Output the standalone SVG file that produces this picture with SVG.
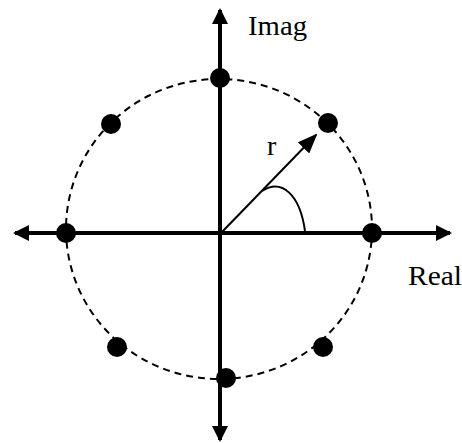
<svg xmlns="http://www.w3.org/2000/svg" width="462" height="443" viewBox="0 0 462 443">
<style>
.axis{stroke:#000;stroke-width:4;fill:none}
.circ{stroke:#000;stroke-width:2;fill:none;stroke-dasharray:7,5}
.dot{fill:#000}
.lbl{font-family:"Liberation Serif",serif;font-size:28px;fill:#000}
</style>
<defs>
<marker id="ah" markerWidth="4" markerHeight="4" refX="3.5" refY="2" orient="auto" markerUnits="strokeWidth">
<path d="M0,0 L4,2 L0,4 Z" fill="#000"/>
</marker>
<marker id="ahs" markerWidth="10" markerHeight="8" refX="9" refY="4" orient="auto" markerUnits="strokeWidth">
<path d="M0,0 L10,4 L0,8 Z" fill="#000"/>
</marker>
</defs>
<ellipse class="circ" cx="219" cy="229" rx="153" ry="150"/>
<g id="connectors">
<line class="axis" x1="220" y1="232" x2="220" y2="10" marker-end="url(#ah)"/>
<line class="axis" x1="220" y1="232" x2="220" y2="440" marker-end="url(#ah)"/>
<line class="axis" x1="220" y1="233" x2="15" y2="233" marker-end="url(#ah)"/>
<line class="axis" x1="220" y1="233" x2="450" y2="233" marker-end="url(#ah)"/>
<line x1="222" y1="232" x2="316" y2="135" stroke="#000" stroke-width="2" marker-end="url(#ahs)"/>
<path d="M262,191 C282,178 300,195 305,231" stroke="#000" stroke-width="2" fill="none"/>
</g>
<g id="p0"><circle class="dot" cx="220" cy="78" r="10"/></g>
<g id="p1"><circle class="dot" cx="328" cy="123" r="10"/></g>
<g id="p2"><circle class="dot" cx="372" cy="233" r="10"/></g>
<g id="p3"><circle class="dot" cx="323" cy="347" r="10"/></g>
<g id="p4"><circle class="dot" cx="226" cy="378" r="10"/></g>
<g id="p5"><circle class="dot" cx="117" cy="347" r="10"/></g>
<g id="p6"><circle class="dot" cx="66" cy="233" r="10"/></g>
<g id="p7"><circle class="dot" cx="111" cy="124" r="10"/></g>
<text class="lbl" x="248" y="35" textLength="59" lengthAdjust="spacingAndGlyphs">Imag</text>
<text class="lbl" x="408" y="285" textLength="54" lengthAdjust="spacingAndGlyphs">Real</text>
<text class="lbl" x="267" y="155">r</text>
</svg>
